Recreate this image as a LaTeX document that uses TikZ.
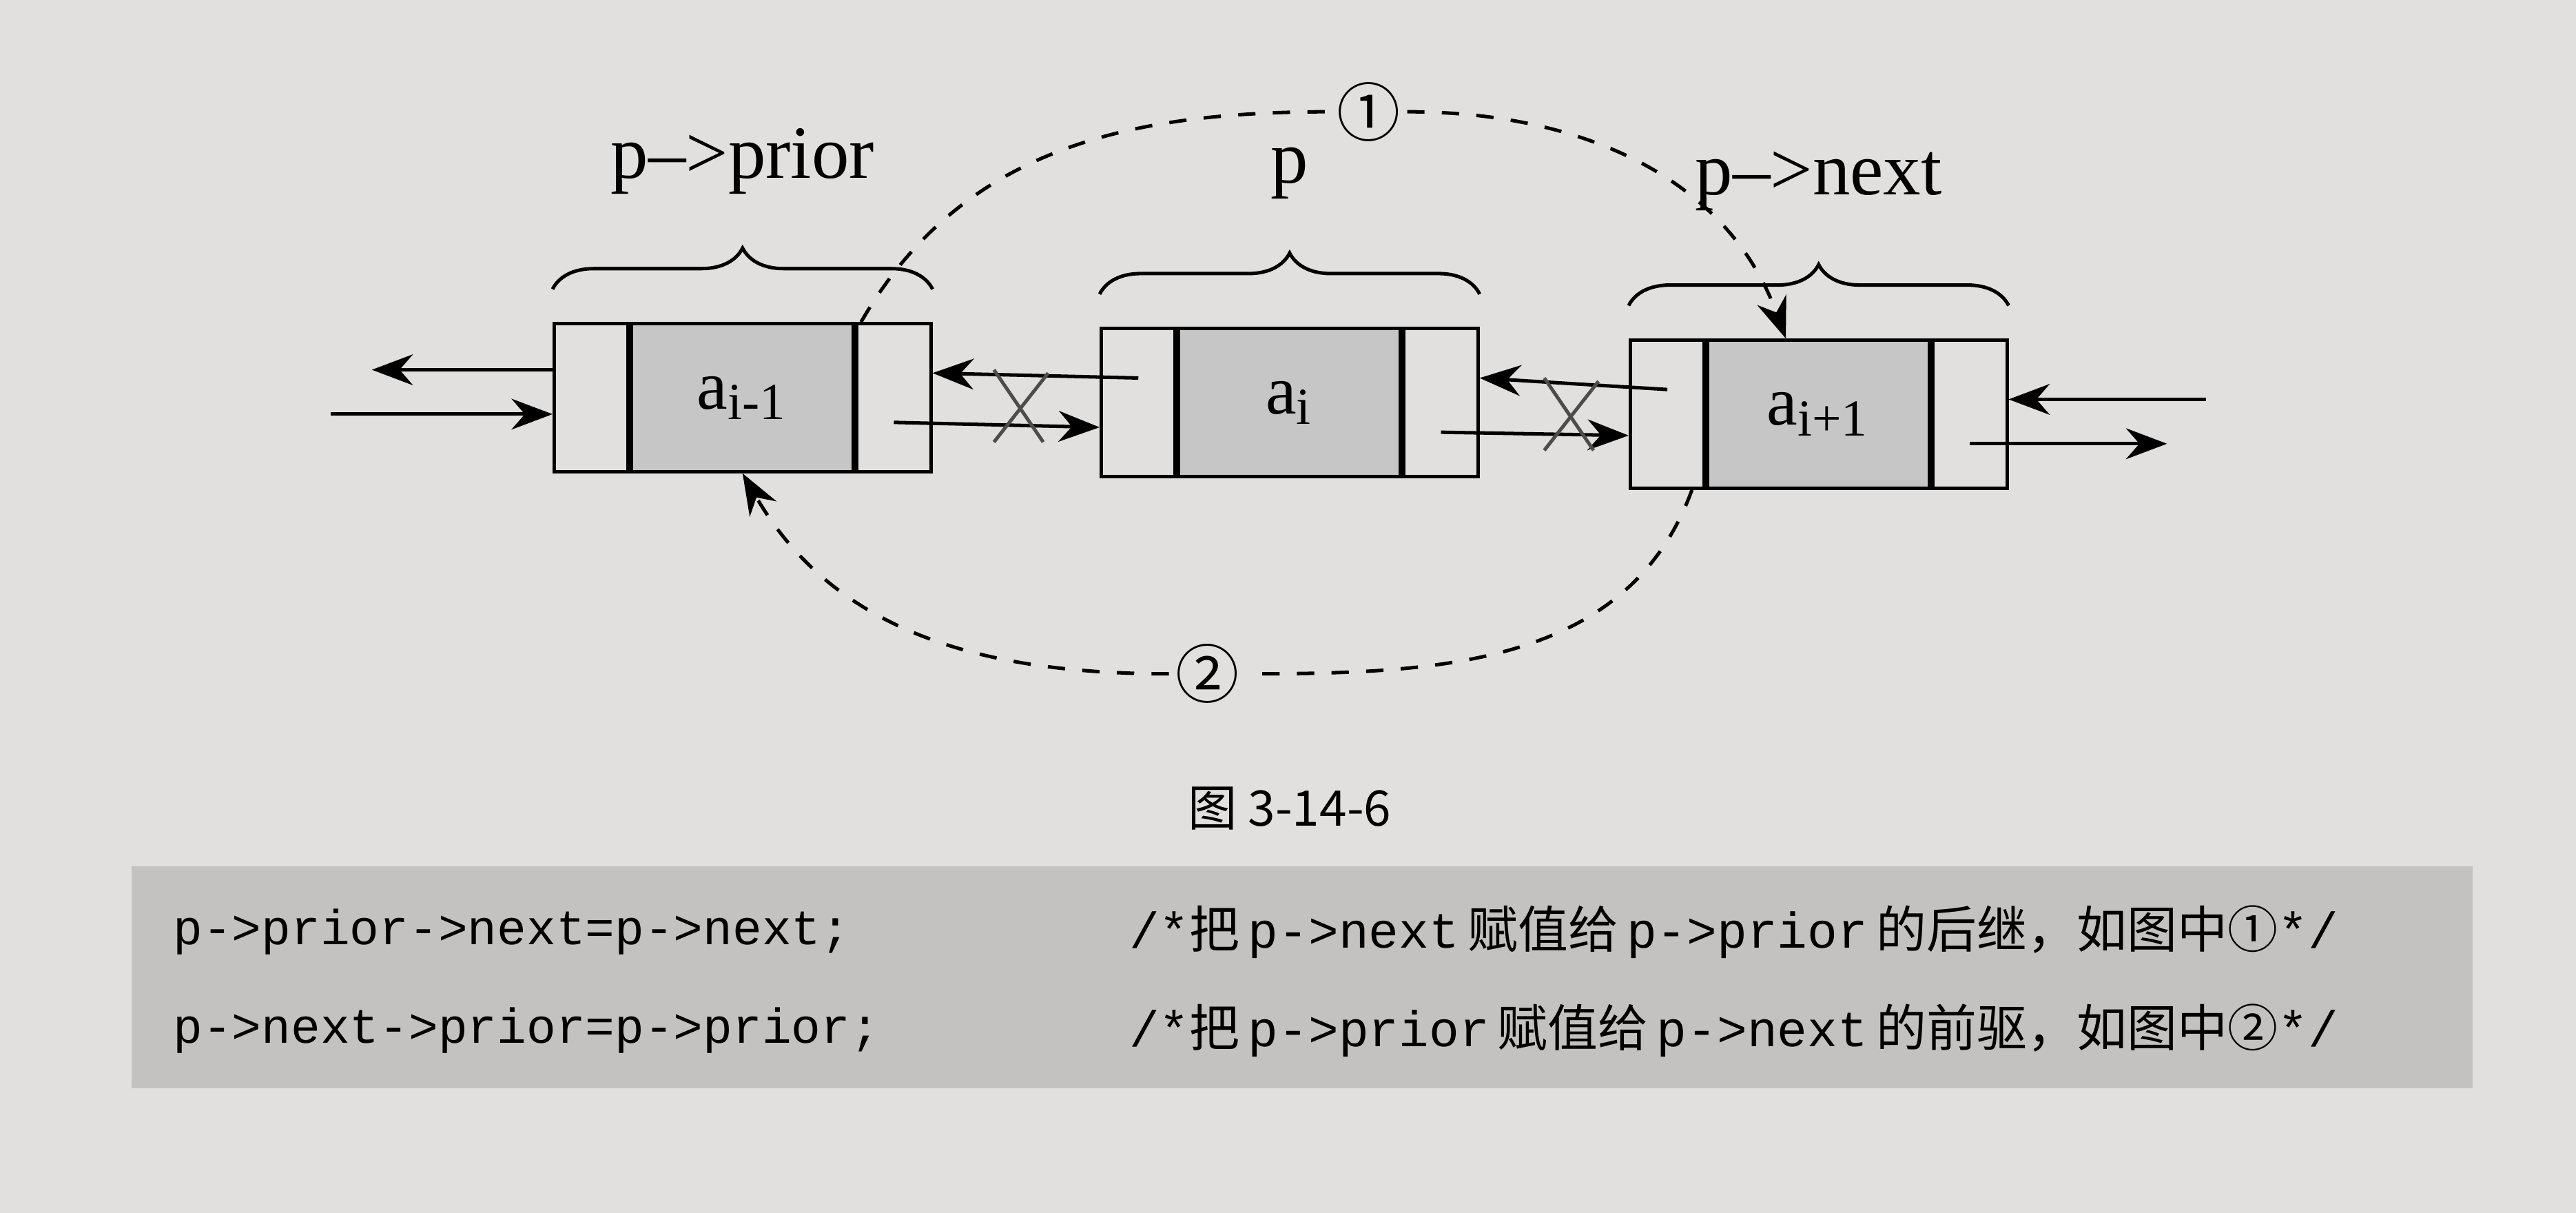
\documentclass[tikz,border=0pt]{standalone}
\usepackage{fontspec}
\setmainfont{Liberation Serif}
\setmonofont{Liberation Mono}
\newfontfamily\cjk{Noto Sans CJK SC}
\usetikzlibrary{positioning,decorations.pathreplacing,arrows.meta}
\definecolor{paper}{RGB}{226,224,222}
\definecolor{band}{RGB}{196,194,192}
\tikzset{
    datafield/.style = {draw, semithick, fill=gray!45, minimum width=1.35cm, minimum height=0.9cm, inner sep=0pt, font=\fontsize{12}{12}\selectfont},
    ptrfield/.style = {draw, semithick, fill=paper, minimum width=0.45cm, minimum height=0.9cm, inner sep=0pt},
    ptr/.style = {semithick, -{Stealth[length=2.5mm]}},
    link/.style = {semithick, dashed, -{Stealth[length=2.5mm]}},
    ptrname/.style = {font=\fontsize{13}{13}\selectfont},
    stepmark/.style = {fill=paper, inner sep=1pt, font=\cjk\fontsize{11}{11}\selectfont},
    crossline/.style = {gray!60!black, semithick},
}
\begin{document}
\begin{tikzpicture}[x=0.1mm, y=-0.1mm]
\fill[paper] (0,0) rectangle (1568,738);
\useasboundingbox (0,0) rectangle (1568,738);

% the three list nodes
\node[datafield] (d1) at (452,242) {a$_{\mbox{\small i-1}}$};
\node[ptrfield, left=0pt of d1] (l1) {};
\node[ptrfield, right=0pt of d1] (r1) {};
\node[datafield] (d2) at (785,245) {a$_{\mbox{\small i}}$};
\node[ptrfield, left=0pt of d2] (l2) {};
\node[ptrfield, right=0pt of d2] (r2) {};
\node[datafield] (d3) at (1107,252) {a$_{\mbox{\small i+1}}$};
\node[ptrfield, left=0pt of d3] (l3) {};
\node[ptrfield, right=0pt of d3] (r3) {};

% braces and names
\foreach \i/\name in {1/p{--}{>}prior, 2/p, 3/p{--}{>}next} {
    \draw[semithick, decoration={brace, amplitude=2.5mm}, decorate]
        ([yshift=2mm]l\i.north west) -- ([yshift=2mm]r\i.north east)
        node[ptrname, midway, above=4.5mm] (n\i) {\name};
}

% pointers between the nodes
\draw[ptr] ([yshift=1.7mm]l1.west) -- ++(-1.1cm,0) coordinate (o1);
\draw[ptr] ([yshift=-1mm,xshift=-1.35cm]l1.west) coordinate (i1) -- ([yshift=-1mm]l1.west);
\draw[ptr] ([yshift=1.5mm]l2.center) -- ([yshift=1.5mm]r1.east);
\draw[ptr] ([yshift=-1.5mm]r1.center) -- ([yshift=-1.5mm]l2.west);
\draw[ptr] ([yshift=1.5mm]l3.center) -- ([yshift=1.5mm]r2.east);
\draw[ptr] ([yshift=-1.8mm]r2.center) -- ([yshift=-1.3mm]l3.west);
\draw[ptr] ([yshift=0.9mm,xshift=1.2cm]r3.east) coordinate (i3) -- ([yshift=0.9mm]r3.east);
\draw[ptr] ([yshift=-1.8mm]r3.center) -- ++(1.2cm,0) coordinate (o3);

% crossed out links
\foreach \cx/\cy in {620/247, 955/252} {
    \draw[crossline] (\cx-15,\cy-22) -- (\cx+15,\cy+22);
    \draw[crossline] (\cx+18,\cy-20) -- (\cx-15,\cy+22);
}

% the new links
\node[stepmark] (c1) at (833,68) {①};
\node[stepmark] (c2) at (735,410) {②};
\draw[semithick, dashed] ([xshift=-2mm]r1.north) to[out=60, in=180] (c1.west);
\draw[link] (c1.east) to[out=0, in=110] ([xshift=-2mm]d3.north);
\draw[semithick, dashed] ([xshift=1.5mm]l3.south) to[out=-110, in=0] (c2.east);
\draw[link] (c2.west) to[out=180, in=-60] (d1.south);

% caption and code
\node[font=\cjk\fontsize{8.5}{8.5}\selectfont] (cap) at (785,492) {图 3-14-6};
\fill[band] (80,527) rectangle (1505,662);
\node[anchor=west, font=\ttfamily\fontsize{8.5}{8.5}\selectfont] (s1) at (93,567) {p->prior->next=p->next;};
\node[anchor=west, font=\ttfamily\fontsize{8.5}{8.5}\selectfont] (s2) at (93,627) {p->next->prior=p->prior;};
\node[anchor=west, font=\fontsize{8.7}{8.7}\selectfont] (k1) at (675,567) {\texttt{/*}{\cjk 把}\,\texttt{p->next}\,{\cjk 赋值给}\,\texttt{p->prior}\,{\cjk 的后继，如图中①}\texttt{*/}};
\node[anchor=west, font=\fontsize{8.7}{8.7}\selectfont] (k2) at (675,627) {\texttt{/*}{\cjk 把}\,\texttt{p->prior}\,{\cjk 赋值给}\,\texttt{p->next}\,{\cjk 的前驱，如图中②}\texttt{*/}};
\end{tikzpicture}
\end{document}
